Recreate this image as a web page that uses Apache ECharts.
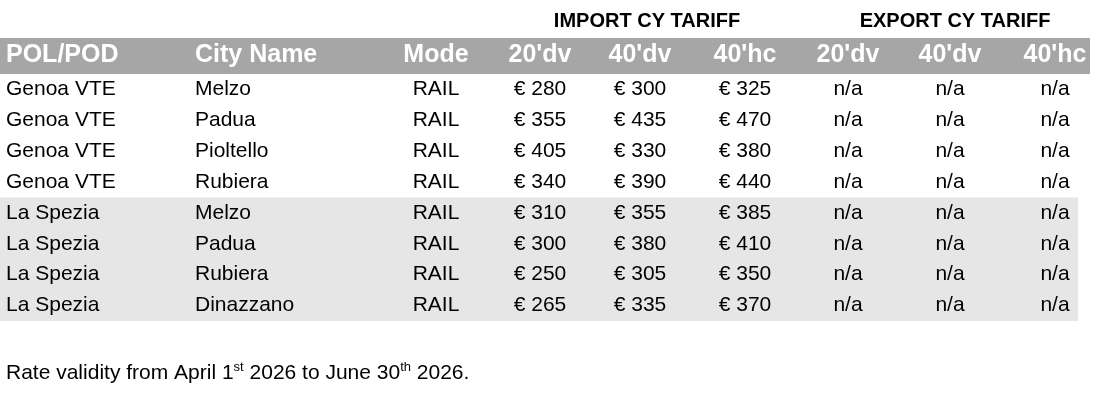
<!DOCTYPE html>
<html><head><meta charset="utf-8">
<script src="https://cdn.jsdelivr.net/npm/echarts@6/dist/echarts.min.js"></script>
<style>html,body{margin:0;background:#fff}#c{width:1107px;height:418px}</style>
</head><body><div id="c"></div>
<script>
var headers = ['POL/POD', 'City Name', 'Mode', "20'dv", "40'dv", "40'hc", "20'dv", "40'dv", "40'hc"];
var pol = ['Genoa VTE', 'Genoa VTE', 'Genoa VTE', 'Genoa VTE', 'La Spezia', 'La Spezia', 'La Spezia', 'La Spezia'];
var city = ['Melzo', 'Padua', 'Pioltello', 'Rubiera', 'Melzo', 'Padua', 'Rubiera', 'Dinazzano'];
var mode = ['RAIL', 'RAIL', 'RAIL', 'RAIL', 'RAIL', 'RAIL', 'RAIL', 'RAIL'];
var imp20 = [280, 355, 405, 340, 310, 300, 250, 265];
var imp40 = [300, 435, 330, 390, 355, 380, 305, 335];
var imp40hc = [325, 470, 380, 440, 385, 410, 350, 370];
var exportVal = 'n/a';

// column anchor x, alignment
var colX = [6, 195, 436, 540, 640, 745, 848, 950, 1055];
var colAlign = ['left', 'left', 'center', 'center', 'center', 'center', 'center', 'center', 'center'];

var rows = [headers];
for (var i = 0; i < pol.length; i++) {
  rows.push([pol[i], city[i], mode[i], '€ ' + imp20[i], '€ ' + imp40[i], '€ ' + imp40hc[i], exportVal, exportVal, exportVal]);
}
var rowNames = rows.map(function (r, i) { return String(i); });

var chart = echarts.init(document.getElementById('c'));
chart.setOption({
  animation: false,
  grid: {left: 0, right: 0, top: 43, height: 278},
  xAxis: {type: 'value', min: 0, max: 1107, show: false},
  yAxis: {type: 'category', data: rowNames, inverse: true, show: false},
  title: [
    {text: 'IMPORT CY TARIFF', left: 642, top: 6, textAlign: 'center',
     textStyle: {fontFamily: 'Liberation Sans', fontSize: 20, fontWeight: 'bold', color: '#000'}},
    {text: 'EXPORT CY TARIFF', left: 950, top: 6, textAlign: 'center',
     textStyle: {fontFamily: 'Liberation Sans', fontSize: 20, fontWeight: 'bold', color: '#000'}},
    {text: 'Rate validity from April 1{s|st} 2026 to June 30{s|th} 2026.', left: 1, top: 356,
     textStyle: {fontFamily: 'Liberation Sans', fontSize: 21, fontWeight: 'normal', color: '#000',
       rich: {s: {fontSize: 13, verticalAlign: 'top', padding: [0, 0, 12, 0], fontFamily: 'Liberation Sans'}}}}
  ],
  series: [{
    type: 'custom',
    data: rows.map(function (r, i) { return [i]; }),
    encode: {y: 0},
    renderItem: function (params, api) {
      var ri = api.value(0);
      var c = api.coord([0, ri]);
      var h = api.size([0, 1])[1];
      var header = ri === 0;
      var children = [];
      var fill = header ? '#a6a6a6' : (ri > 4 ? '#e6e6e6' : '#ffffff');
      var w = header ? 1090 : 1078;
      var top = header ? 38 : c[1] - h / 2;
      var bottom = c[1] + h / 2;
      children.push({type: 'rect', shape: {x: 0, y: top, width: w, height: bottom - top}, style: {fill: fill}});
      rows[ri].forEach(function (t, k) {
        var p = api.coord([colX[k], ri]);
        children.push({type: 'text', x: p[0], y: header ? 55 : p[1], style: {
          text: t, textAlign: colAlign[k], textVerticalAlign: 'middle',
          fill: header ? '#fff' : '#000', fontFamily: 'Liberation Sans',
          fontSize: header ? 25 : 21, fontWeight: header ? 'bold' : 'normal'}});
      });
      return {type: 'group', children: children};
    }
  }]
});
</script></body></html>
